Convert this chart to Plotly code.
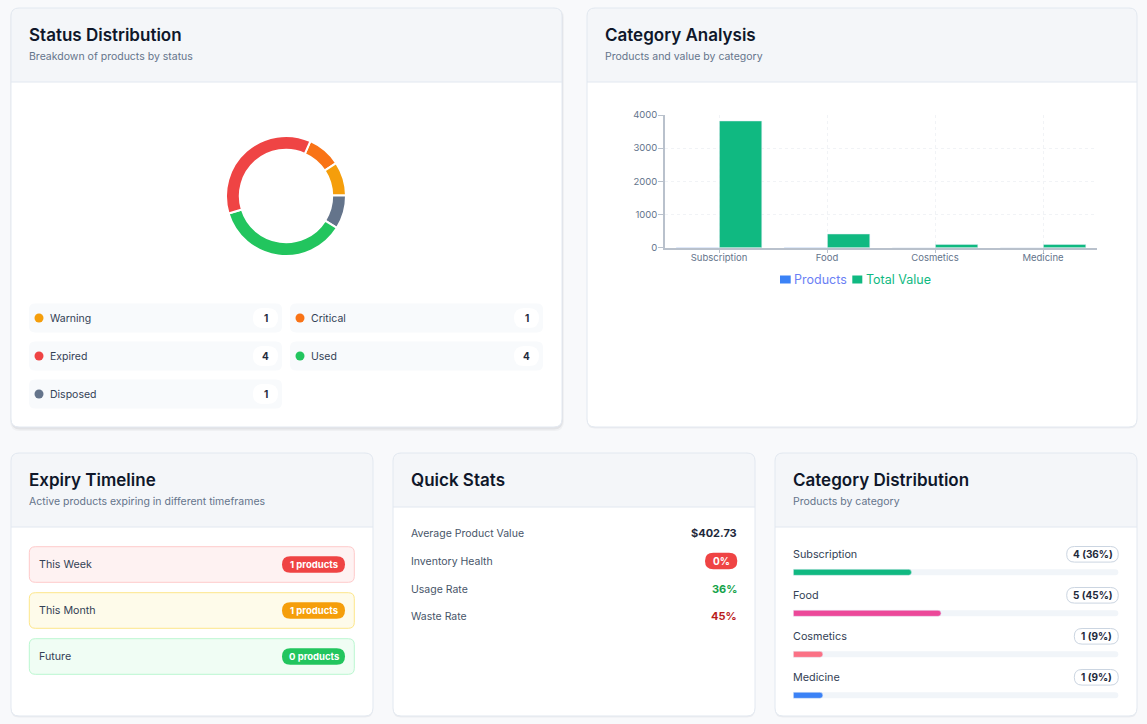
import plotly.graph_objects as go

W, H = 1147, 724

# ---------------- data ----------------
status_labels = ["Warning", "Critical", "Expired", "Used", "Disposed"]
status_counts = [1, 1, 4, 4, 1]
status_colors = ["#f59e0b", "#f97316", "#ef4444", "#22c55e", "#64748b"]
donut_order = ["Critical", "Warning", "Disposed", "Used", "Expired"]

categories = ["Subscription", "Food", "Cosmetics", "Medicine"]
cat_products = [4, 5, 1, 1]
cat_value = [3820, 413, 100, 97]
cat_colors = ["#10b981", "#ec4899", "#fb7185", "#3b82f6"]
value_ticks = [0, 1000, 2000, 3000, 4000]

timeline_labels = ["This Week", "This Month", "Future"]
timeline_counts = [1, 1, 0]

stats_labels = ["Average Product Value", "Inventory Health", "Usage Rate", "Waste Rate"]
stats_values = ["$402.73", "0%", "36%", "45%"]

# ---------------- helpers ----------------
def X(x):
    return x / W

def Y(y):
    return 1 - y / H

def P(x, y):
    return f"{X(x):.6f},{Y(y):.6f}"

def rr_path(x0, y0, x1, y1, r, top=True, bot=True):
    rt = r if top else 0
    rb = r if bot else 0
    s = f"M{P(x0 + rt, y0)} L{P(x1 - rt, y0)} "
    if rt:
        s += f"Q{P(x1, y0)} {P(x1, y0 + rt)} "
    s += f"L{P(x1, y1 - rb)} "
    if rb:
        s += f"Q{P(x1, y1)} {P(x1 - rb, y1)} "
    s += f"L{P(x0 + rb, y1)} "
    if rb:
        s += f"Q{P(x0, y1)} {P(x0, y1 - rb)} "
    s += f"L{P(x0, y0 + rt)} "
    if rt:
        s += f"Q{P(x0, y0)} {P(x0 + rt, y0)} "
    return s + "Z"

shapes = []
annotations = []

def add_rr(x0, y0, x1, y1, r, fill="rgba(0,0,0,0)", line=None, lw=0, top=True, bot=True):
    shapes.append(dict(type="path", path=rr_path(x0, y0, x1, y1, r, top, bot),
                       xref="paper", yref="paper", fillcolor=fill,
                       line=dict(color=line or "rgba(0,0,0,0)", width=lw), layer="below"))

def add_line(x0, y0, x1, y1, color, w=1):
    shapes.append(dict(type="line", x0=X(x0), x1=X(x1), y0=Y(y0), y1=Y(y1),
                       xref="paper", yref="paper", line=dict(color=color, width=w), layer="below"))

def add_circle(cx, cy, r, color):
    shapes.append(dict(type="circle", x0=X(cx - r), x1=X(cx + r), y0=Y(cy + r), y1=Y(cy - r),
                       xref="paper", yref="paper", fillcolor=color,
                       line=dict(width=0), layer="below"))

FONT = "Inter, Roboto, sans-serif"

def ann(text, x, y, size, color, weight=400, xanchor="left"):
    annotations.append(dict(text=text, x=X(x), y=Y(y),
                            xref="paper", yref="paper", xanchor=xanchor, yanchor="middle",
                            showarrow=False, borderpad=0, borderwidth=0,
                            font=dict(size=size, color=color, family=FONT, weight=weight)))

def card(x0, y0, x1, y1, header_h, title, subtitle=None, strong_shadow=False):
    if strong_shadow:
        add_rr(x0 - 1, y0, x1 + 2, y1 + 4, 10, fill="rgba(15,23,42,0.035)")
        add_rr(x0, y0 + 1, x1 + 1, y1 + 2.5, 9, fill="rgba(15,23,42,0.06)")
    else:
        add_rr(x0, y0 + 1, x1, y1 + 1.5, 8, fill="rgba(15,23,42,0.05)")
    add_rr(x0, y0, x1, y1, 8, fill="#ffffff")
    add_rr(x0, y0, x1, y0 + header_h, 8, fill="#f4f6f9", bot=False)
    add_line(x0, y0 + header_h, x1, y0 + header_h, "#e2e8f0", 1)
    add_rr(x0, y0, x1, y1, 8, line="#e2e8f0", lw=1)
    ann(title, x0 + 18, y0 + 27, 17, "#0f172a", weight=600)
    if subtitle:
        ann(subtitle, x0 + 18, y0 + 48.5, 10.5, "#64748b")

# ---------------- cards ----------------
card(11, 8, 562, 427, 74, "Status Distribution", "Breakdown of products by status", strong_shadow=True)
card(587, 8, 1137, 427, 74, "Category Analysis", "Products and value by category")
card(11, 453, 373, 716, 74, "Expiry Timeline", "Active products expiring in different timeframes")
card(393, 453, 755, 716, 54, "Quick Stats")
card(775, 453, 1137, 716, 74, "Category Distribution", "Products by category")

fig = go.Figure()

# ---------------- donut ----------------
smap = {l: (c, col) for l, c, col in zip(status_labels, status_counts, status_colors)}
fig.add_trace(go.Pie(
    labels=donut_order,
    values=[smap[l][0] for l in donut_order],
    marker=dict(colors=[smap[l][1] for l in donut_order], line=dict(color="white", width=2)),
    hole=0.77, sort=False, direction="clockwise", rotation=24,
    textinfo="none", hoverinfo="label+value", showlegend=False,
    domain=dict(x=[X(226), X(346)], y=[Y(256), Y(136)]),
))

# status chips
for i, (lab, cnt, col) in enumerate(zip(status_labels, status_counts, status_colors)):
    c, r = i % 2, i // 2
    cx0 = [29, 290][c]
    cx1 = cx0 + 253
    cy = 318 + r * 38
    add_rr(cx0, cy - 14.5, cx1, cy + 14.5, 6, fill="#f8fafc")
    add_circle(cx0 + 10, cy, 4.5, col)
    ann(lab, cx0 + 21, cy, 10.5, "#334155")
    add_rr(cx1 - 29, cy - 10, cx1 - 4, cy + 10, 10, fill="#ffffff")
    ann(str(cnt), cx1 - 16.5, cy, 10, "#1e293b", weight=700, xanchor="center")

# ---------------- category analysis bar chart ----------------
fig.add_trace(go.Bar(x=categories, y=cat_products, name="Products", marker_color="#3b82f6",
                     xaxis="x", yaxis="y", showlegend=False))
fig.add_trace(go.Bar(x=categories, y=cat_value, name="Total Value", marker_color="#10b981",
                     xaxis="x", yaxis="y", showlegend=False))

# manual legend
add_rr(780, 275.5, 790.7, 283.5, 0, fill="#3b82f6")
ann("Products", 793.5, 279, 12.5, "#6b7ff5")
add_rr(852.3, 275.5, 862.3, 283.5, 0, fill="#10b981")
ann("Total Value", 865.5, 279, 12.5, "#10b981")

# ---------------- expiry timeline ----------------
tl_styles = [("#fef2f2", "#fecaca", "#ef4444"),
             ("#fefbea", "#fde68a", "#f59e0b"),
             ("#f0fdf4", "#bbf7d0", "#22c55e")]
for i, (lab, cnt) in enumerate(zip(timeline_labels, timeline_counts)):
    y0 = 546.7 + i * 46
    y1 = y0 + 35.6
    cy = (y0 + y1) / 2
    bg, bd, badge = tl_styles[i]
    add_rr(29.3, y0, 354.3, y1, 6, fill=bg, line=bd, lw=1)
    ann(lab, 39.3, cy, 10.7, "#334155")
    add_rr(282, cy - 8.3, 345, cy + 8.3, 8.3, fill=badge)
    ann(f"{cnt} products", 313.5, cy, 9.5, "#ffffff", weight=700, xanchor="center")

# ---------------- quick stats ----------------
stat_y = [533.3, 561, 589, 616]
for i, (lab, val) in enumerate(zip(stats_labels, stats_values)):
    cy = stat_y[i]
    ann(lab, 411, cy, 10.5, "#475569")
    if i == 0:
        ann(val, 737, cy, 11, "#1e293b", weight=700, xanchor="right")
    elif i == 1:
        add_rr(705, cy - 8.3, 737.3, cy + 8.3, 8.3, fill="#ef4444")
        ann(val, 721.2, cy, 10, "#ffffff", weight=700, xanchor="center")
    elif i == 2:
        ann(val, 737, cy, 11, "#16a34a", weight=700, xanchor="right")
    else:
        ann(val, 737, cy, 11, "#b91c1c", weight=700, xanchor="right")

# ---------------- category distribution ----------------
total = sum(cat_products)
pcts = [c / total * 100 for c in cat_products]
row0, step = 554.3, 41
trk_x0, trk_x1 = 793.3, 1118.3
for i, (cat, cnt) in enumerate(zip(categories, cat_products)):
    ly = row0 + i * step
    by = ly + 18
    ann(cat, 793, ly, 10.8, "#334155")
    txt = f"{cnt} ({round(cnt / total * 100)}%)"
    pw = 7.6 * len(txt) - 1.6
    add_rr(trk_x1 - pw, ly - 7.8, trk_x1, ly + 7.8, 7.8, fill="#ffffff", line="#cbd5e1", lw=1)
    ann(txt, trk_x1 - pw / 2, ly, 10, "#1e293b", weight=700, xanchor="center")
    add_rr(trk_x0, by - 3, trk_x1, by + 3, 3, fill="#f1f5f9")

bar_y_top = row0 + 18 - step / 2
bar_y_bot = row0 + 18 + 3 * step + step / 2
fig.add_trace(go.Bar(x=pcts, y=categories, orientation="h", width=6 / step,
                     marker=dict(color=cat_colors, cornerradius=3),
                     xaxis="x2", yaxis="y2", showlegend=False, hoverinfo="x+y"))

axis_col = "#b9c1cc"
grid_col = "#f1f3f6"
fig.update_layout(
    width=W, height=H,
    margin=dict(l=0, r=0, t=0, b=0, pad=0, autoexpand=False),
    paper_bgcolor="#f8f9fb", plot_bgcolor="rgba(0,0,0,0)",
    font=dict(family=FONT),
    showlegend=False,
    barmode="group", bargap=0.2, bargroupgap=0.02,
    xaxis=dict(domain=[X(665), X(1097)], anchor="y", type="category", automargin=False,
               showline=True, linecolor=axis_col, linewidth=1.5,
               ticks="outside", ticklen=4, tickcolor=axis_col, tickwidth=1,
               ticklabelstandoff=-4,
               tickfont=dict(size=9.5, color="#64748b", family=FONT),
               showgrid=True, gridcolor=grid_col, griddash="dot", gridwidth=1,
               zeroline=False, fixedrange=True),
    yaxis=dict(domain=[Y(247.7), Y(115)], anchor="x", range=[0, 4000], automargin=False,
               tickvals=value_ticks, showline=True, linecolor=axis_col, linewidth=1.5,
               ticks="outside", ticklen=5, tickcolor=axis_col, tickwidth=1,
               ticklabelstandoff=-1,
               tickfont=dict(size=9.5, color="#64748b", family=FONT),
               showgrid=True, gridcolor=grid_col, griddash="dot", gridwidth=1,
               zeroline=False, fixedrange=True),
    xaxis2=dict(domain=[X(trk_x0), X(trk_x1)], anchor="y2", range=[0, 100], automargin=False,
                visible=False, fixedrange=True),
    yaxis2=dict(domain=[Y(bar_y_bot), Y(bar_y_top)], anchor="x2", type="category", automargin=False,
                categoryorder="array", categoryarray=categories, range=[3.5, -0.5],
                visible=False, fixedrange=True),
    shapes=shapes,
    annotations=annotations,
)

fig.write_html("out.html")
